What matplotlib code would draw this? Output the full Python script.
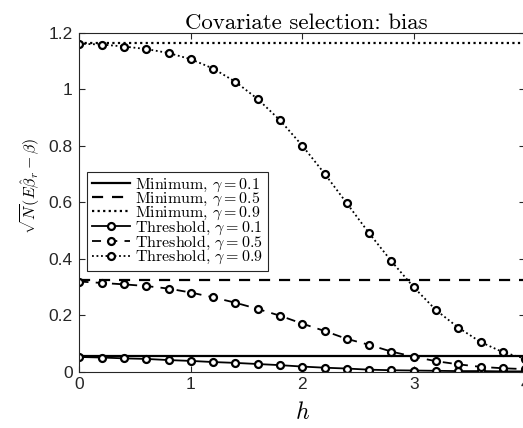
import matplotlib
matplotlib.use("Agg")
import matplotlib.pyplot as plt
from matplotlib.ticker import FuncFormatter

plt.rcParams['mathtext.fontset'] = 'cm'
plt.rcParams['font.family'] = ['Liberation Sans', 'DejaVu Sans']

# datos
h = [0.0, 0.2, 0.4, 0.6, 0.8, 1.0, 1.2, 1.4, 1.6, 1.8, 2.0,
     2.2, 2.4, 2.6, 2.8, 3.0, 3.2, 3.4, 3.6, 3.8, 4.0]
minimo = {0.1: 0.055, 0.5: 0.326, 0.9: 1.165}
umbral_01 = [0.053, 0.051, 0.048, 0.046, 0.042, 0.039, 0.035, 0.032, 0.028, 0.024, 0.019,
             0.015, 0.012, 0.008, 0.006, 0.005, 0.004, 0.003, 0.003, 0.002, 0.002]
umbral_05 = [0.320, 0.315, 0.310, 0.304, 0.295, 0.281, 0.264, 0.245, 0.223, 0.199, 0.171,
             0.145, 0.117, 0.096, 0.072, 0.054, 0.038, 0.027, 0.018, 0.013, 0.010]
umbral_09 = [1.162, 1.159, 1.152, 1.143, 1.129, 1.107, 1.074, 1.027, 0.966, 0.891, 0.801,
             0.702, 0.597, 0.491, 0.392, 0.300, 0.219, 0.157, 0.106, 0.070, 0.047]
gammas = [0.1, 0.5, 0.9]
estilos = ['-', (0, (5, 4)), (0, (1, 1.5))]

fig = plt.figure(figsize=(5.23, 4.28), dpi=100)
ax = fig.add_axes([0.152, 0.131, 0.852, 0.792])

# lineas horizontales (Minimum)
for g, ls in zip(gammas, estilos):
    ax.plot([h[0], h[-1]], [minimo[g], minimo[g]], color='black', linestyle=ls,
            linewidth=1.6, label=r'Minimum, $\gamma = %g$' % g)

# curvas con marcadores (Threshold)
for g, ls, ys in zip(gammas, estilos, [umbral_01, umbral_05, umbral_09]):
    ax.plot(h, ys, color='black', linestyle=ls, linewidth=1.3, marker='o',
            markersize=5, markerfacecolor='white', markeredgewidth=1.6,
            label=r'Threshold, $\gamma = %g$' % g)

ax.set_xlim(0, 4)
ax.set_ylim(0, 1.2)
ax.set_xticks([0, 1, 2, 3, 4])
ax.set_yticks([0, 0.2, 0.4, 0.6, 0.8, 1.0, 1.2])
ax.yaxis.set_major_formatter(FuncFormatter(lambda v, p: '%g' % v))
ax.tick_params(direction='in', top=True, right=True, labelsize=12.5,
               color='#262626', labelcolor='#262626', length=4)
ax.tick_params(axis='y', pad=5)
for s in ax.spines.values():
    s.set_color('#262626')
    s.set_linewidth(0.8)

ax.set_title('Covariate selection: bias', fontfamily='cmr10', fontsize=16.5,
             pad=3, x=0.51)
ax.set_xlabel(r'$h$', fontsize=17, labelpad=7)
ax.set_ylabel(r'$\sqrt{N}(E\hat{\beta}_r - \beta)$', fontsize=11.5)
ax.yaxis.set_label_coords(-0.084, 0.55)

leg = ax.legend(loc='upper left', bbox_to_anchor=(0.017, 0.59),
                prop={'family': 'cmr10', 'size': 11.5}, fancybox=False,
                framealpha=1, edgecolor='#262626', handlelength=2.4,
                handletextpad=0.3, borderpad=0.3, labelspacing=-0.22,
                borderaxespad=0)
leg.get_frame().set_linewidth(0.8)

fig.savefig('out.png', dpi=100)
